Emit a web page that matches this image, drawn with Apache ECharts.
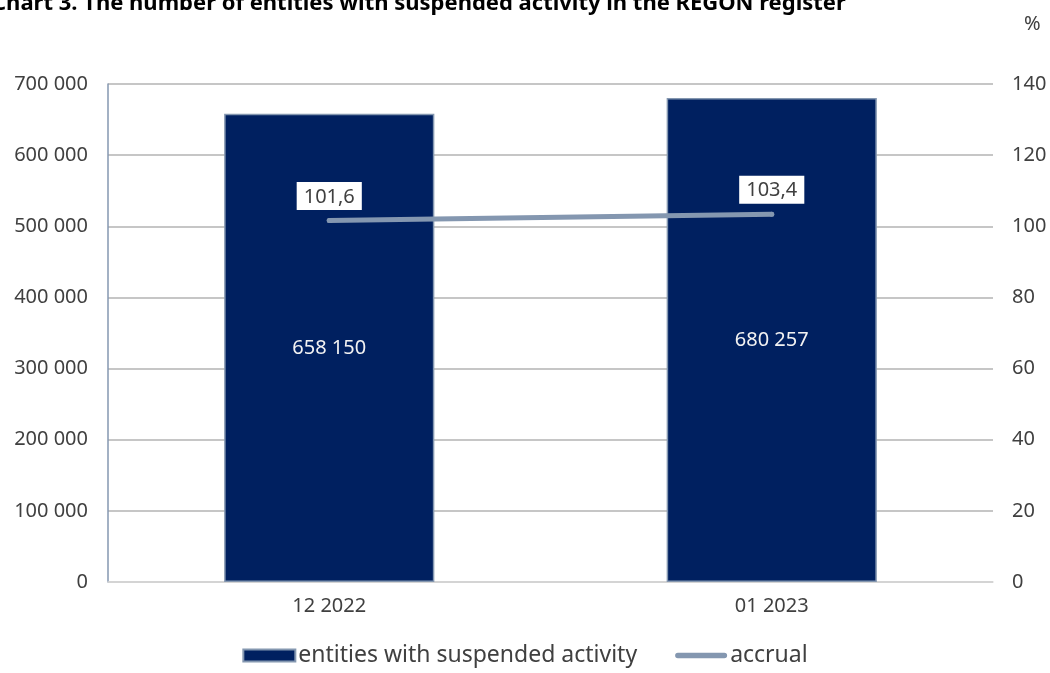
<!DOCTYPE html>
<html><head><meta charset="utf-8">
<script src="https://cdn.jsdelivr.net/npm/echarts@6/dist/echarts.min.js"></script>
<style>html,body{margin:0;padding:0;background:#fff}#c{width:1050px;height:673px}</style>
</head><body><div id="c"></div>
<script>
const categories = ['12 2022', '01 2023'];
const entities = [658150, 680257];
const accrual = [101.6, 103.4];
const leftTicks = [0, 700000, 100000];
const rightTicks = [0, 140, 20];

const fmtInt = v => String(Math.round(v)).replace(/\B(?=(\d{3})+(?!\d))/g, ' ');
const fmtDec = v => v.toFixed(1).replace('.', ',');
const FONT = 'Noto Sans';
const chart = echarts.init(document.getElementById('c'));
chart.setOption({
  animation: false,
  textStyle: {fontFamily: FONT},
  title: [
    {text: 'Chart 3. The number of entities with suspended activity in the REGON register', left: -13, top: -12,
     textStyle: {fontFamily: FONT, fontSize: 22, fontWeight: 'bold', color: '#000'}},
    {text: '%', left: 1019, top: 9, textStyle: {fontFamily: FONT, fontSize: 20, fontWeight: 'normal', color: '#404040'}}
  ],
  grid: {left: 108, right: 57, top: 84, bottom: 91},
  legend: {
    bottom: 1, left: 'center', itemGap: 38, itemWidth: 52, itemHeight: 12,
    textStyle: {fontFamily: FONT, fontSize: 23, color: '#404040', padding: [0, 0, 0, -2]},
    data: [
      {name: 'entities with suspended activity', icon: 'rect'},
      {name: 'accrual', icon: 'path://M3,0 L53,0 A3,3 0 0 1 53,6 L3,6 A3,3 0 0 1 3,0 Z',
       itemStyle: {color: '#8497B0', opacity: 1, borderWidth: 0}}
    ]
  },
  xAxis: {
    type: 'category', data: categories,
    axisLine: {lineStyle: {color: '#d9d9d9', width: 1.5}},
    axisTick: {show: false},
    axisLabel: {fontFamily: FONT, fontSize: 20, color: '#404040', margin: 14}
  },
  yAxis: [
    {type: 'value', min: leftTicks[0], max: leftTicks[1], interval: leftTicks[2],
     axisLine: {show: true, lineStyle: {color: '#8497B0', width: 1.5}},
     axisTick: {show: false},
     splitLine: {lineStyle: {color: '#b3b3b3', width: 1.5}},
     axisLabel: {fontFamily: FONT, fontSize: 20, color: '#404040', margin: 20, formatter: fmtInt}},
    {type: 'value', min: rightTicks[0], max: rightTicks[1], interval: rightTicks[2], position: 'right',
     axisLine: {show: false}, axisTick: {show: false}, splitLine: {show: false},
     axisLabel: {fontFamily: FONT, fontSize: 20, color: '#404040', margin: 19, formatter: v => String(v)}}
  ],
  series: [
    {name: 'entities with suspended activity', type: 'bar', data: entities, barWidth: '47.5%',
     itemStyle: {color: '#002060', borderColor: '#8497B0', borderWidth: 1.5},
     label: {show: true, position: 'inside', fontFamily: FONT, fontSize: 20, color: '#f2f2f2', formatter: p => fmtInt(p.value)}},
    {name: 'accrual', type: 'line', yAxisIndex: 1, data: accrual, symbol: 'circle', symbolSize: 5, showSymbol: true,
     lineStyle: {color: '#8497B0', width: 5, cap: 'round'}, itemStyle: {color: '#8497B0', borderWidth: 0},
     label: {show: true, position: 'top', distance: 8, fontFamily: FONT, fontSize: 20, color: '#404040',
       backgroundColor: '#fff', padding: [5, 7, 3, 7], formatter: p => fmtDec(p.value)}}
  ]
});
</script></body></html>
